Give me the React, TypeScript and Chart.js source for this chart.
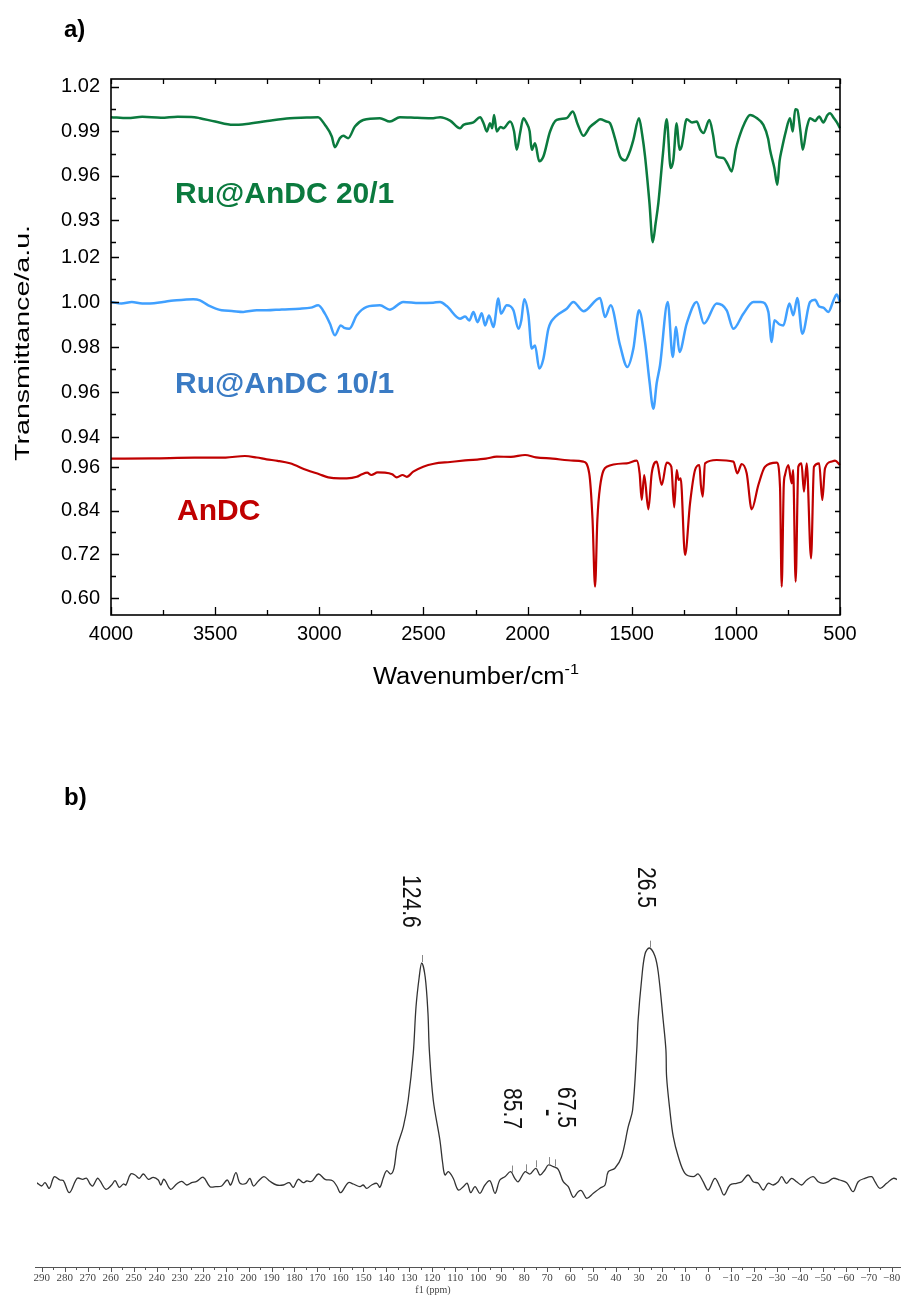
import React, { useEffect, useRef } from 'react';
import { Chart, registerables } from 'chart.js';

Chart.register(...registerables);

// ---------------- Panel a) FT-IR ----------------
const irTickWavenumbers = [4000, 3500, 3000, 2500, 2000, 1500, 1000, 500];
const ticks20 = [0.93, 0.96, 0.99, 1.02];
const ticks10 = [0.94, 0.96, 0.98, 1.0, 1.02];
const ticksAnDC = [0.6, 0.72, 0.84, 0.96];

const seriesNames = ['Ru@AnDC 20/1', 'Ru@AnDC 10/1', 'AnDC'];

// [wavenumber (cm-1), transmittance]
const spectrum20: [number, number][] = [
  [4000, 0.9996], [3920, 0.999], [3850, 0.9998], [3760, 0.9992], [3680, 0.9999], [3600, 0.9996],
  [3573, 0.9989], [3500, 0.9966], [3414, 0.9944], [3350, 0.995], [3250, 0.997], [3141, 0.9989],
  [3060, 0.9993], [3006, 0.9996], [2973, 0.9944], [2940, 0.9865], [2925, 0.9793], [2901, 0.9854],
  [2885, 0.987], [2861, 0.9854], [2829, 0.9933], [2789, 0.9977], [2709, 0.9989], [2661, 0.9966],
  [2613, 0.9996], [2530, 0.9992], [2453, 0.9989], [2420, 0.9996], [2372, 0.9973], [2324, 0.9921],
  [2308, 0.9944], [2260, 0.996], [2228, 0.9996], [2210, 0.995], [2196, 0.9899], [2180, 0.9955],
  [2170, 0.992], [2161, 1.0011], [2148, 0.9899], [2130, 0.993], [2116, 0.9921], [2084, 0.9966],
  [2065, 0.99], [2052, 0.9775], [2036, 0.9888], [2020, 0.9989], [2004, 0.9955], [1990, 0.99],
  [1980, 0.9775], [1964, 0.982], [1944, 0.9697], [1924, 0.973], [1892, 0.9899], [1860, 0.9977],
  [1812, 0.9989], [1783, 1.0034], [1760, 0.995], [1732, 0.987], [1700, 0.993], [1668, 0.9966],
  [1652, 0.9982], [1620, 0.9966], [1604, 0.9955], [1580, 0.985], [1556, 0.973], [1532, 0.9703],
  [1510, 0.976], [1492, 0.9843], [1465, 0.9989], [1450, 0.988], [1436, 0.973], [1415, 0.942],
  [1399, 0.915], [1385, 0.928], [1372, 0.9416], [1350, 0.975], [1332, 0.9982], [1313, 0.9652],
  [1300, 0.9708], [1284, 0.9955], [1271, 0.9775], [1260, 0.98], [1236, 0.9982], [1210, 0.996],
  [1188, 0.9966], [1170, 0.991], [1156, 0.9888], [1127, 0.9977], [1110, 0.988], [1092, 0.973],
  [1060, 0.9719], [1040, 0.968], [1020, 0.9629], [1000, 0.978], [988, 0.9843], [960, 0.995],
  [932, 1.0011], [900, 0.999], [868, 0.9944], [845, 0.985], [836, 0.9775], [815, 0.965],
  [801, 0.9539], [790, 0.97], [780, 0.9775], [760, 0.99], [740, 0.9989], [727, 0.9899],
  [715, 1.005], [705, 1.0045], [690, 0.99], [679, 0.9775], [660, 0.992], [644, 0.9989],
  [620, 0.997], [600, 1.0], [580, 0.996], [560, 1.001], [548, 1.0022], [530, 0.999],
  [515, 0.996], [500, 0.9921],
];

const spectrum10: [number, number][] = [
  [4000, 1.0], [3950, 0.9993], [3900, 1.0], [3850, 0.9993], [3813, 0.9993], [3750, 1.0],
  [3700, 1.0007], [3650, 1.001], [3605, 1.0012], [3573, 1.0007], [3533, 0.9985], [3469, 0.9963],
  [3420, 0.996], [3365, 0.9956], [3300, 0.9963], [3253, 0.9963], [3180, 0.9967], [3093, 0.997],
  [3040, 0.9975], [3005, 0.9985], [2973, 0.9948], [2949, 0.9904], [2925, 0.9852], [2897, 0.9896],
  [2880, 0.9885], [2856, 0.9881], [2820, 0.9941], [2772, 0.9978], [2709, 0.9985], [2661, 0.9966],
  [2597, 1.0], [2520, 0.9995], [2453, 0.9997], [2420, 1.0], [2388, 0.9982], [2324, 0.9926],
  [2300, 0.9935], [2280, 0.9918], [2260, 0.9955], [2240, 0.991], [2220, 0.995], [2204, 0.9896],
  [2185, 0.994], [2164, 0.9889], [2140, 1.0015], [2128, 0.9948], [2100, 0.9985], [2068, 0.9963],
  [2044, 0.9881], [2030, 0.9919], [2016, 1.0012], [1996, 0.9941], [1980, 0.9793], [1964, 0.9807],
  [1944, 0.9704], [1924, 0.9748], [1900, 0.9881], [1868, 0.9933], [1812, 0.997], [1780, 1.0],
  [1732, 0.9959], [1652, 1.0018], [1628, 0.9933], [1601, 0.9985], [1556, 0.9807], [1521, 0.9711],
  [1492, 0.9793], [1465, 0.9963], [1436, 0.9822], [1415, 0.965], [1396, 0.9526], [1380, 0.964],
  [1364, 0.9719], [1327, 1.0], [1303, 0.9756], [1287, 0.9889], [1271, 0.9778], [1236, 0.9904],
  [1188, 1.0], [1153, 0.9904], [1092, 0.9993], [1044, 0.9963], [1012, 0.9881], [964, 0.9948],
  [916, 1.0], [880, 1.0], [844, 0.9956], [828, 0.9822], [815, 0.9919], [790, 0.99],
  [772, 0.9896], [743, 0.9993], [724, 0.9941], [705, 1.0018], [681, 0.9859], [644, 1.0],
  [620, 1.001], [600, 0.998], [580, 0.9975], [556, 0.9956], [530, 1.001], [516, 1.0033],
  [500, 1.0],
];

const spectrumAnDC: [number, number][] = [
  [4000, 0.9829], [3800, 0.9838], [3600, 0.9856], [3450, 0.986], [3357, 0.9902], [3300, 0.986],
  [3253, 0.9811], [3200, 0.977], [3141, 0.9701], [3061, 0.9518], [3000, 0.94], [2957, 0.9316],
  [2900, 0.9289], [2868, 0.9289], [2820, 0.933], [2796, 0.9399], [2770, 0.9444], [2750, 0.938],
  [2720, 0.945], [2685, 0.9444], [2650, 0.94], [2628, 0.9316], [2600, 0.938], [2580, 0.933],
  [2549, 0.9472], [2501, 0.9609], [2450, 0.969], [2372, 0.9737], [2300, 0.978], [2200, 0.983],
  [2148, 0.9884], [2080, 0.988], [2012, 0.993], [1960, 0.9866], [1880, 0.983], [1780, 0.9774],
  [1732, 0.9747], [1704, 0.9426], [1688, 0.8144], [1676, 0.6311], [1665, 0.8144], [1652, 0.9059],
  [1620, 0.9609], [1524, 0.9701], [1476, 0.9774], [1462, 0.9426], [1452, 0.8693], [1440, 0.938],
  [1420, 0.8437], [1404, 0.9426], [1380, 0.9747], [1356, 0.9105], [1332, 0.9719], [1310, 0.9609],
  [1296, 0.8492], [1284, 0.9518], [1275, 0.9243], [1265, 0.9289], [1244, 0.7182], [1220, 0.8602],
  [1196, 0.9518], [1175, 0.9655], [1168, 0.9105], [1159, 0.8785], [1148, 0.9701], [1092, 0.9792],
  [1012, 0.9747], [993, 0.9426], [972, 0.9682], [948, 0.9426], [924, 0.8437], [892, 0.9105],
  [860, 0.9609], [804, 0.9719], [788, 0.9059], [780, 0.6311], [770, 0.91], [764, 0.938],
  [748, 0.9655], [732, 0.9151], [725, 0.9518], [713, 0.645], [700, 0.9609], [685, 0.9701],
  [673, 0.8922], [660, 0.9701], [639, 0.7091], [625, 0.9609], [600, 0.9701], [585, 0.8693],
  [572, 0.9563], [540, 0.975], [524, 0.9774], [500, 0.9655],
];

// ---------------- Panel b) 13C NMR ----------------
const nmrTickPpm = [290, 280, 270, 260, 250, 240, 230, 220, 210, 200, 190, 180, 170, 160, 150, 140, 130, 120,
  110, 100, 90, 80, 70, 60, 50, 40, 30, 20, 10, 0, -10, -20, -30, -40, -50, -60, -70, -80];
const nmrPeakLabels = ['124.6', '85.7', '67.5', '26.5'];
const nmrPeakPpm = [124.6, 85.7, 67.5, 26.5];
const nmrPickedPpm = [124.6, 85.4, 79.1, 74.9, 69.4, 66.8, 25.3];

// [ppm, intensity (a.u.)]
const nmrSpectrum: [number, number][] = [
  [292.2, 2.3], [290.1, -1], [288.6, 2.3], [286.7, -3.3], [284.6, 8.3], [282.1, 5], [280.6, 4.3],
  [278.0, -7.7], [274.6, 6.7], [272.2, 5.7], [270.5, 6.7], [269.0, 1], [267.8, -1], [265.8, 6.7],
  [264.7, 4.3], [262.1, -4.3], [259.6, 0], [258.1, 4.3], [256.3, -2.3], [254.5, 1], [253.4, 0],
  [251.3, 11], [249.4, 10], [247.6, 6.7], [245.8, 11], [243.6, 5.7], [241.5, 7.7], [239.3, 5],
  [238.2, 0], [236.8, 5.7], [233.9, -4.3], [231.3, 1], [229.1, 3.7], [226.9, 0], [224.8, 2.3],
  [222.6, 3.7], [219.7, 7.7], [216.8, -1.7], [214.2, -1.7], [211.7, -1], [209.3, 5], [207.8, 0],
  [205.5, 12.3], [203.7, 1.7], [201.1, 1.7], [199.4, 6.7], [197.9, -1], [195.8, 3.7], [193.3, 8.3],
  [190.7, 3.7], [187.8, 0], [184.9, 0], [182.3, 2.3], [180.5, -2.3], [178.4, 5.7], [176.2, 2.3],
  [174.7, 4], [172.5, 3.7], [169.6, 11], [166.7, 5.7], [163.4, 4.3], [161.6, -1], [159.9, -7.7],
  [156.6, 2.3], [154.4, 1], [151.5, -1.7], [150.1, 0], [148.6, -3.3], [146.4, 0], [144.2, 1.7],
  [142.8, -2.3], [141.4, 6.7], [139.9, 14.3], [138.1, 11], [136.7, 16.7], [135.3, 38.3],
  [132.6, 58.3], [130.5, 85], [128.3, 131.7], [127.1, 178], [125.7, 208], [124.6, 222],
  [123.1, 208], [121.9, 172], [121.3, 135], [119.6, 85], [116.7, 45], [115.5, 22], [114.5, 10],
  [113.0, 13.3], [110.9, 6.7], [108.7, -5], [106.5, -1.7], [104.8, 1.7], [103.3, -7.7],
  [101.4, -1.7], [99.3, -8.3], [97.1, 0], [94.9, 4.3], [92.7, -8.3], [90.6, 5], [88.4, 8.3],
  [85.9, 13.3], [84.1, 6.7], [82.6, 3.3], [79.7, 13.3], [77.5, 11], [74.9, 16.7], [73.1, 10],
  [71.0, 15], [69.5, 20], [67.3, 18.3], [65.2, 15.7], [63.0, 3.3], [60.8, -1.7], [58.6, -12.3],
  [56.5, -6.7], [55.0, -5.7], [52.8, -13.3], [49.9, -8.3], [47.0, -3.3], [44.8, 0], [43.4, 13.3],
  [40.5, 16.7], [37.6, 28.3], [34.7, 58.3], [32.8, 75], [31.0, 135], [30.4, 165], [28.9, 205],
  [27.4, 231], [25.5, 237], [23.1, 229], [21.6, 212], [19.5, 165], [18.3, 135], [18.0, 108],
  [16.6, 75], [15.1, 48.3], [12.9, 28.3], [10.0, 11.7], [6.4, 8.3], [4.2, 11], [2.1, 3.3],
  [-0.1, -5], [-3.0, 6.7], [-5.2, -1.7], [-7.0, -10], [-9.6, 0], [-12.5, 1.7], [-14.7, 3.3],
  [-17.5, 10], [-19.7, 3.3], [-21.9, 1.7], [-24.1, -5], [-26.2, 1.7], [-28.4, 0], [-30.6, 3.3],
  [-32.1, 8.3], [-34.2, 1.7], [-36.4, 6.7], [-38.6, 3.3], [-40.8, 0], [-43.0, 5], [-45.8, 8.3],
  [-48.0, 3.3], [-50.2, 1.7], [-52.4, 3.3], [-54.5, 6.7], [-57.4, 5], [-60.4, 2.3], [-63.2, -6.7],
  [-65.4, 3.3], [-68.3, 6.7], [-71.3, 8.3], [-72.7, 3.3], [-74.9, -3.3], [-77.8, 1.7],
  [-80.7, 6.7], [-82.8, 5],
];

// ---------------- helpers ----------------
const SANS = 'Liberation Sans, Arial, sans-serif';
const SERIF = 'Liberation Serif, Times New Roman, serif';
const colors = { g: '#0b7a3e', bLine: '#40a0ff', bText: '#3a7bc4', r: '#c00000' };

function halfSteps(majors: number[], min: number, max: number) {
  const step = majors[1] - majors[0];
  const out: number[] = [];
  const lo = Math.min(min, max), hi = Math.max(min, max);
  for (let i = -1; i < majors.length; i++) {
    const v = i < 0 ? majors[0] - step / 2 : majors[i] + step / 2;
    if (v >= lo - 1e-9 && v <= hi + 1e-9) out.push(v);
  }
  return out;
}

function toPoints(arr: [number, number][]) {
  return arr.map(([x, y]) => ({ x, y }));
}

function nmrAt(ppm: number) {
  for (let i = 0; i < nmrSpectrum.length - 1; i++) {
    const [p0, v0] = nmrSpectrum[i];
    const [p1, v1] = nmrSpectrum[i + 1];
    if (ppm <= p0 && ppm >= p1) {
      const t = (p0 - ppm) / (p0 - p1);
      return v0 + t * (v1 - v0);
    }
  }
  return 0;
}

function setTicks(values: number[]) {
  return (s: any) => {
    s.ticks = values.map((v) => ({ value: v }));
  };
}

const irDecor = {
  id: 'irDecor',
  afterDraw(chart: any) {
    const { ctx, chartArea: a, scales } = chart;
    ctx.save();
    ctx.strokeStyle = '#000';
    ctx.lineWidth = 1.6;
    ctx.strokeRect(a.left, a.top, a.right - a.left, a.bottom - a.top);

    ctx.lineWidth = 1.3;
    ctx.beginPath();
    const yAxes: [string, number[]][] = [['y20', ticks20], ['y10', ticks10], ['yAnDC', ticksAnDC]];
    for (const [id, majors] of yAxes) {
      const s = scales[id];
      for (const v of majors) {
        const py = Math.round(s.getPixelForValue(v)) + 0.5;
        ctx.moveTo(a.left, py); ctx.lineTo(a.left + 8, py);
        ctx.moveTo(a.right, py); ctx.lineTo(a.right - 5, py);
      }
      for (const v of halfSteps(majors, s.min, s.max)) {
        const py = Math.round(s.getPixelForValue(v)) + 0.5;
        ctx.moveTo(a.left, py); ctx.lineTo(a.left + 5, py);
        ctx.moveTo(a.right, py); ctx.lineTo(a.right - 5, py);
      }
    }
    const xs = scales.x;
    for (const v of irTickWavenumbers) {
      const px = Math.round(xs.getPixelForValue(v)) + 0.5;
      ctx.moveTo(px, a.bottom); ctx.lineTo(px, a.bottom - 8);
      ctx.moveTo(px, a.top); ctx.lineTo(px, a.top + 5);
    }
    for (const v of halfSteps(irTickWavenumbers, xs.min, xs.max)) {
      const px = Math.round(xs.getPixelForValue(v)) + 0.5;
      ctx.moveTo(px, a.bottom); ctx.lineTo(px, a.bottom - 5);
      ctx.moveTo(px, a.top); ctx.lineTo(px, a.top + 5);
    }
    ctx.stroke();

    // panel letter
    ctx.fillStyle = '#000';
    ctx.font = `bold 24px ${SANS}`;
    ctx.textAlign = 'left';
    ctx.textBaseline = 'alphabetic';
    ctx.fillText('a)', 64, 37);

    // series labels
    ctx.font = `bold 30px ${SANS}`;
    ctx.fillStyle = colors.g;
    ctx.fillText(seriesNames[0], 175, 203);
    ctx.fillStyle = colors.bText;
    ctx.fillText(seriesNames[1], 175, 393);
    ctx.fillStyle = colors.r;
    ctx.fillText(seriesNames[2], 177, 520);

    // x title with superscript
    ctx.fillStyle = '#000';
    ctx.font = `22px ${SANS}`;
    const main = 'Wavenumber/cm';
    const wMain = ctx.measureText(main).width;
    ctx.font = `14px ${SANS}`;
    const sup = '-1';
    const wSup = ctx.measureText(sup).width;
    const total = wMain + wSup;
    const target = 206;
    const sx = target / total;
    ctx.save();
    ctx.translate(476 - target / 2, 684);
    ctx.scale(sx, 1.05);
    ctx.font = `22px ${SANS}`;
    ctx.fillText(main, 0, 0);
    ctx.font = `14px ${SANS}`;
    ctx.fillText(sup, wMain, -10);
    ctx.restore();

    // y title, rotated
    ctx.save();
    ctx.font = `21px ${SANS}`;
    const yt = 'Transmittance/a.u.';
    const wy = ctx.measureText(yt).width;
    const ytarget = 236;
    ctx.translate(29, 343);
    ctx.rotate(-Math.PI / 2);
    ctx.scale(ytarget / wy, 1);
    ctx.textAlign = 'center';
    ctx.fillText(yt, 0, 0);
    ctx.restore();

    ctx.restore();
  },
};

const nmrDecor = {
  id: 'nmrDecor',
  afterDraw(chart: any) {
    const { ctx, chartArea: a, scales } = chart;
    const xs = scales.x;
    const ys = scales.y;
    ctx.save();
    // axis line and ticks (pointing down)
    ctx.strokeStyle = '#555';
    ctx.lineWidth = 1;
    ctx.beginPath();
    ctx.moveTo(35, a.bottom + 0.5);
    ctx.lineTo(chart.width, a.bottom + 0.5);
    for (const v of nmrTickPpm) {
      const px = Math.round(xs.getPixelForValue(v)) + 0.5;
      ctx.moveTo(px, a.bottom); ctx.lineTo(px, a.bottom + 5);
    }
    for (const v of halfSteps(nmrTickPpm, xs.min, xs.max)) {
      const px = Math.round(xs.getPixelForValue(v)) + 0.5;
      ctx.moveTo(px, a.bottom); ctx.lineTo(px, a.bottom + 3);
    }
    ctx.stroke();

    // axis title
    ctx.fillStyle = '#444';
    ctx.font = `10px ${SERIF}`;
    ctx.textAlign = 'center';
    ctx.textBaseline = 'middle';
    ctx.fillText('f1 (ppm)', 433, a.bottom + 23);

    // peak pick markers
    ctx.strokeStyle = '#888';
    ctx.lineWidth = 1;
    ctx.beginPath();
    for (const p of nmrPickedPpm) {
      const px = Math.round(xs.getPixelForValue(p)) + 0.5;
      const py = ys.getPixelForValue(nmrAt(p));
      ctx.moveTo(px, py - 1);
      ctx.lineTo(px, py - 8);
    }
    ctx.stroke();

    // rotated peak labels: [dx from ppm pixel (center), top y]
    const layout = [[-10, 175], [2, 388], [14.5, 387], [0, 167]];
    ctx.fillStyle = '#111';
    ctx.font = `22px ${SANS}`;
    ctx.textAlign = 'left';
    ctx.textBaseline = 'alphabetic';
    nmrPeakLabels.forEach((txt, i) => {
      const cx = xs.getPixelForValue(nmrPeakPpm[i]) + layout[i][0];
      ctx.save();
      ctx.translate(cx - 9, layout[i][1]);
      ctx.rotate(Math.PI / 2);
      ctx.scale(0.96, 1.17);
      ctx.fillText(txt, 0, 0);
      ctx.restore();
    });
    // separator between the two small labels
    ctx.save();
    ctx.translate(541.5, 409);
    ctx.rotate(Math.PI / 2);
    ctx.font = `bold 22px ${SANS}`;
    ctx.fillText('-', 0, 0);
    ctx.restore();

    // panel letter
    ctx.fillStyle = '#000';
    ctx.font = `bold 24px ${SANS}`;
    ctx.textAlign = 'left';
    ctx.fillText('b)', 64, 105);
    ctx.restore();
  },
};

function yScale(majors: number[], min: number, max: number, weight: number) {
  return {
    type: 'linear',
    position: 'left',
    stack: 'ir',
    stackWeight: weight,
    min,
    max,
    grid: { display: false, drawTicks: false },
    border: { display: false },
    afterBuildTicks: setTicks(majors),
    afterFit: (s: any) => { s.width = 111; },
    ticks: {
      autoSkip: false,
      padding: 11,
      color: '#000',
      font: { family: SANS, size: 20 },
      callback: (v: any) => Number(v).toFixed(2),
    },
  };
}

export default function App() {
  const irRef = useRef<HTMLCanvasElement>(null);
  const nmrRef = useRef<HTMLCanvasElement>(null);

  useEffect(() => {
    const irChart = new Chart(irRef.current as HTMLCanvasElement, {
      type: 'line',
      data: {
        datasets: [
          { label: seriesNames[2], data: toPoints(spectrumAnDC), yAxisID: 'yAnDC', borderColor: colors.r, borderWidth: 2.2 },
          { label: seriesNames[1], data: toPoints(spectrum10), yAxisID: 'y10', borderColor: colors.bLine, borderWidth: 2.5 },
          { label: seriesNames[0], data: toPoints(spectrum20), yAxisID: 'y20', borderColor: colors.g, borderWidth: 2.5 },
        ].map((d) => ({ ...d, xAxisID: 'x', pointRadius: 0, cubicInterpolationMode: 'monotone', clip: false, fill: false })),
      },
      options: {
        responsive: false,
        animation: false,
        devicePixelRatio: 1,
        layout: { padding: { left: 0, top: 79, right: 61, bottom: 0 } },
        plugins: { legend: { display: false }, tooltip: { enabled: false } },
        scales: {
          x: {
            type: 'linear',
            reverse: true,
            min: 500,
            max: 4000,
            grid: { display: false, drawTicks: false },
            border: { display: false },
            afterBuildTicks: setTicks(irTickWavenumbers),
            afterFit: (s: any) => { s.height = 85; },
            ticks: {
              autoSkip: false,
              maxRotation: 0,
              padding: 7,
              color: '#000',
              font: { family: SANS, size: 20 },
              callback: (v: any) => String(v),
            },
          },
          yAnDC: yScale(ticksAnDC, 0.5533, 1.0012, 163),
          y10: yScale(ticks10, 0.93333, 1.02533, 207),
          y20: yScale(ticks20, 0.9131, 1.0254, 166),
        },
      } as any,
      plugins: [irDecor],
    } as any);

    const nmrChart = new Chart(nmrRef.current as HTMLCanvasElement, {
      type: 'line',
      data: {
        datasets: [
          {
            label: '13C NMR',
            data: toPoints(nmrSpectrum),
            borderColor: '#333',
            borderWidth: 1.3,
            pointRadius: 0,
            tension: 0.35,
            fill: false,
          },
        ],
      },
      options: {
        responsive: false,
        animation: false,
        devicePixelRatio: 1,
        layout: { padding: { left: 37, top: 20, right: 23, bottom: 0 } },
        plugins: { legend: { display: false }, tooltip: { enabled: false } },
        scales: {
          x: {
            type: 'linear',
            reverse: true,
            min: -82.3,
            max: 292.1,
            grid: { display: false, drawTicks: false },
            border: { display: false },
            afterBuildTicks: setTicks(nmrTickPpm),
            afterFit: (s: any) => { s.height = 28; },
            ticks: {
              autoSkip: false,
              maxRotation: 0,
              padding: 5,
              color: '#444',
              font: { family: SERIF, size: 11 },
              callback: (v: any) => (Number(v) < 0 ? '\u2212' + Math.abs(Number(v)) : String(v)),
            },
          },
          y: { display: false, min: -82, max: 465 },
        },
      } as any,
      plugins: [nmrDecor],
    } as any);

    return () => {
      irChart.destroy();
      nmrChart.destroy();
    };
  }, []);

  return (
    <div style={{ position: 'absolute', left: 0, top: 0, width: 901, height: 1295, overflow: 'hidden', background: '#fff' }}>
      <canvas ref={irRef} width={901} height={700} style={{ position: 'absolute', left: 0, top: 0, width: 901, height: 700 }} />
      <canvas ref={nmrRef} width={920} height={595} style={{ position: 'absolute', left: 0, top: 700, width: 920, height: 595 }} />
    </div>
  );
}
